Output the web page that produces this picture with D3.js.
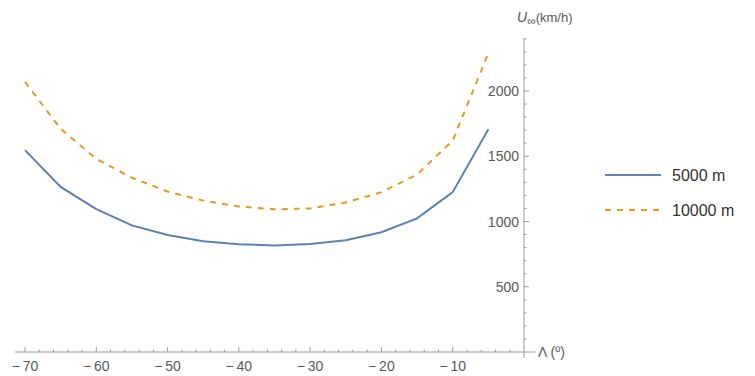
<!DOCTYPE html>
<html><head><meta charset="utf-8">
<script src="https://cdn.jsdelivr.net/npm/d3@7"></script>
<style>body{margin:0;background:#fff}svg{display:block}text{font-family:"Liberation Sans",Arial,sans-serif}</style>
</head><body>
<script>
const lambda = [-70,-65,-60,-55,-50,-45,-40,-35,-30,-25,-20,-15,-10,-5];
const u5000 = [1547,1265,1095,970,896,848,826,817,827,856,918,1024,1225,1707];
const u10000 = [2070,1710,1480,1335,1230,1160,1115,1093,1100,1145,1225,1360,1620,2290];
const seriesNames = ["5000 m","10000 m"];
const xTicks = [-70,-60,-50,-40,-30,-20,-10];
const yTicks = [500,1000,1500,2000];

const W=755,H=376;
const svg=d3.select("body").append("svg").attr("width",W).attr("height",H);
const x=d3.scaleLinear().domain([-70,0]).range([25,524]);
const y=d3.scaleLinear().domain([0,2000]).range([352,91]);
const axisCol="#9a9a9a", labCol="#5a5a5a";

// x axis
svg.append("line").attr("x1",x(-71.4)).attr("x2",x(1.6)).attr("y1",y(0)).attr("y2",y(0)).attr("stroke",axisCol);
const xMinor=d3.range(-70,1,2).filter(v=>v%10!==0);
svg.selectAll(".xmin").data(xMinor).enter().append("line")
 .attr("x1",d=>x(d)).attr("x2",d=>x(d)).attr("y1",y(0)).attr("y2",y(0)-2.5).attr("stroke",axisCol);
svg.selectAll(".xmaj").data(xTicks).enter().append("line")
 .attr("x1",d=>x(d)).attr("x2",d=>x(d)).attr("y1",y(0)).attr("y2",y(0)-5).attr("stroke",axisCol);
svg.selectAll(".xl").data(xTicks).enter().append("text")
 .attr("x",d=>x(d)).attr("y",y(0)+19).attr("text-anchor","middle").attr("font-size",14).attr("fill",labCol)
 .text(d=>"\u2212\u2009"+Math.abs(d));
svg.append("text").attr("x",x(0)+14).attr("y",y(0)+5).attr("font-size",14).attr("fill",labCol).text("\u039B (\u00BA)");

// y axis
svg.append("line").attr("x1",x(0)).attr("x2",x(0)).attr("y1",y(-45)).attr("y2",y(2405)).attr("stroke",axisCol);
const yMinor=d3.range(100,2401,100).filter(v=>v%500!==0);
svg.selectAll(".ymin").data(yMinor).enter().append("line")
 .attr("x1",x(0)).attr("x2",x(0)+2.5).attr("y1",d=>y(d)).attr("y2",d=>y(d)).attr("stroke",axisCol);
svg.selectAll(".ymaj").data(yTicks).enter().append("line")
 .attr("x1",x(0)).attr("x2",x(0)+5).attr("y1",d=>y(d)).attr("y2",d=>y(d)).attr("stroke",axisCol);
svg.selectAll(".yl").data(yTicks).enter().append("text")
 .attr("x",x(0)-5).attr("y",d=>y(d)+5).attr("text-anchor","end").attr("font-size",14).attr("fill",labCol).text(d=>d);
const yl=svg.append("text").attr("x",x(0)-7).attr("y",22).attr("font-size",13).attr("fill",labCol);
yl.append("tspan").attr("font-style","italic").attr("font-size",14).text("U");
yl.append("tspan").attr("dy",3).attr("font-size",12).text("\u221E");
yl.append("tspan").attr("dy",-3).text("(km/h)");

// lines
const colors=["#5E81B5","#E19C24"];
const line=d3.line().x((d,i)=>x(lambda[i])).y(d=>y(d));
svg.append("path").datum(u5000).attr("d",line).attr("fill","none").attr("stroke",colors[0]).attr("stroke-width",2);
svg.append("path").datum(u10000).attr("d",line).attr("fill","none").attr("stroke",colors[1]).attr("stroke-width",2).attr("stroke-dasharray","6,6");

// legend
const lg=svg.append("g");
seriesNames.forEach((n,i)=>{
 const yy=175+i*35;
 lg.append("line").attr("x1",605).attr("x2",661).attr("y1",yy).attr("y2",yy).attr("stroke",colors[i]).attr("stroke-width",2)
   .attr("stroke-dasharray",i?"6,6":null);
 lg.append("text").attr("x",672).attr("y",yy+6).attr("font-size",16).attr("fill","#333").text(n);
});
</script>
</body></html>
